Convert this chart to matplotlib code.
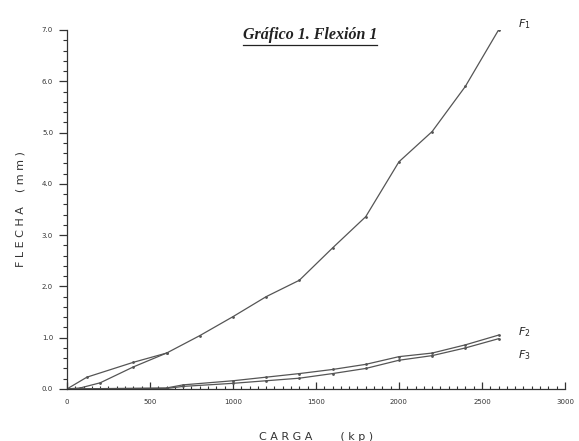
import matplotlib
matplotlib.use("Agg")
import matplotlib.pyplot as plt
from matplotlib.ticker import MultipleLocator, FormatStrFormatter
from matplotlib.lines import Line2D

# Data (carga kp, flecha mm)
f1_x = [0, 120, 400, 600, 800, 1000, 1200, 1400, 1600, 1800, 2000, 2200, 2400, 2600]
f1_y = [0.0, 0.23, 0.52, 0.70, 1.04, 1.41, 1.80, 2.12, 2.75, 3.36, 4.43, 5.02, 5.90, 7.00]
f1b_x = [0, 80, 200, 400, 600]
f1b_y = [0.0, 0.02, 0.12, 0.43, 0.70]
f2_x = [0, 600, 700, 1000, 1200, 1400, 1600, 1800, 2000, 2200, 2400, 2600]
f2_y = [0.0, 0.02, 0.08, 0.16, 0.23, 0.30, 0.38, 0.48, 0.63, 0.70, 0.86, 1.05]
f3_x = [0, 600, 700, 1000, 1200, 1400, 1600, 1800, 2000, 2200, 2400, 2600]
f3_y = [0.0, 0.01, 0.05, 0.11, 0.16, 0.21, 0.30, 0.40, 0.56, 0.65, 0.80, 0.98]

x_ticks = [0, 500, 1000, 1500, 2000, 2500, 3000]
y_ticks = [0.0, 1.0, 2.0, 3.0, 4.0, 5.0, 6.0, 7.0]

fig = plt.figure(figsize=(5.79, 4.41), dpi=100)
ax = fig.add_axes([0.1157, 0.118, 0.860, 0.814])

lc = "#555555"
for xs, ys in [(f1_x, f1_y), (f1b_x, f1b_y), (f2_x, f2_y), (f3_x, f3_y)]:
    ax.plot(xs, ys, color=lc, lw=0.9, marker='.', ms=2)

ax.set_xlim(0, 3000)
ax.set_ylim(0, 7.0)
ax.set_xticks(x_ticks)
ax.set_yticks(y_ticks)
ax.xaxis.set_minor_locator(MultipleLocator(50))
ax.yaxis.set_minor_locator(MultipleLocator(0.2))
ax.yaxis.set_major_formatter(FormatStrFormatter('%.1f'))
for s in ['top', 'right']:
    ax.spines[s].set_visible(False)
for s in ['left', 'bottom']:
    ax.spines[s].set_color('#333333')
    ax.spines[s].set_linewidth(0.9)
ax.tick_params(axis='y', which='major', direction='out', length=6, width=0.9, labelsize=5, colors='#333333', pad=4)
ax.tick_params(axis='y', which='minor', direction='out', length=3, width=0.8, colors='#333333')
ax.tick_params(axis='x', which='major', direction='in', length=5, width=0.9, labelsize=5, colors='#333333', pad=7)
ax.tick_params(axis='x', which='minor', direction='in', length=2.5, width=0.8, colors='#333333')

ax.set_xlabel("C A R G A        ( k p )", fontsize=8, color='#333333', labelpad=20)
ax.set_ylabel("F L E C H A    ( m m )", fontsize=8, color='#333333', labelpad=12)

t = fig.text(0.535, 0.912, "Gráfico 1. Flexión 1", fontsize=11.5, family='Liberation Serif',
             style='italic', weight='bold', color='#222222', ha='center', va='baseline')
fig.canvas.draw()
bb = t.get_window_extent(renderer=fig.canvas.get_renderer()).transformed(fig.transFigure.inverted())
fig.add_artist(Line2D([bb.x0, bb.x1], [bb.y0 - 0.004, bb.y0 - 0.004], transform=fig.transFigure,
                      color='#222222', lw=0.9))

ax.text(2720, 7.05, r"$F_1$", fontsize=8, family='Liberation Serif', color='#222222')
ax.text(2720, 1.05, r"$F_2$", fontsize=8, family='Liberation Serif', color='#222222')
ax.text(2720, 0.60, r"$F_3$", fontsize=8, family='Liberation Serif', color='#222222')

fig.savefig("out.png", dpi=100)
